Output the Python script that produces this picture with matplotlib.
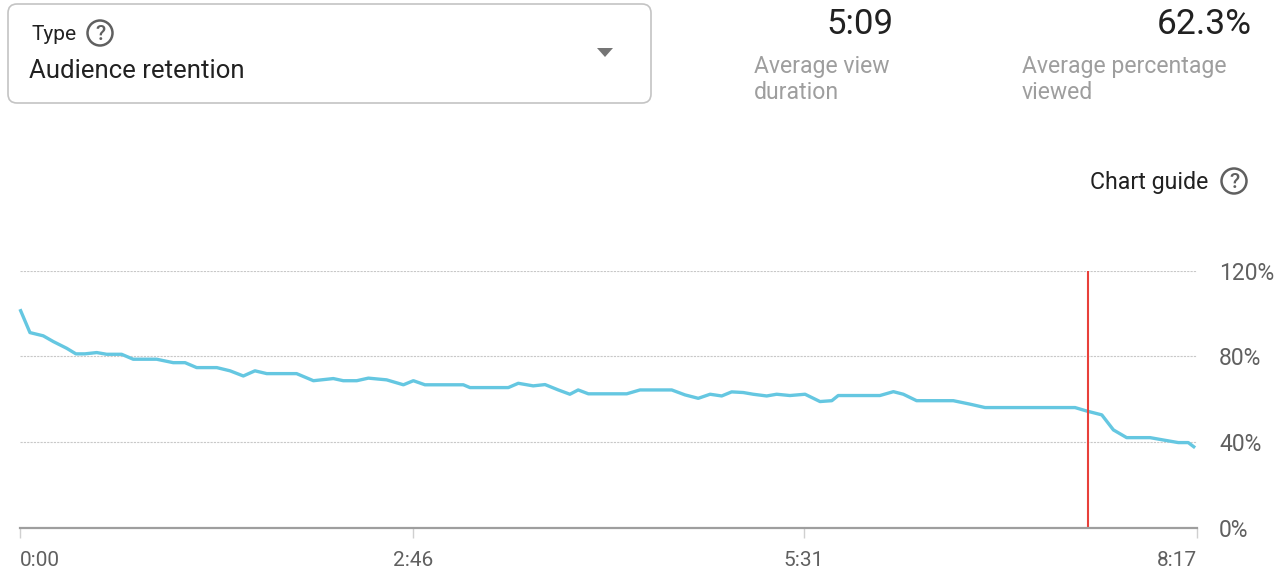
import matplotlib
matplotlib.use("Agg")
import matplotlib.pyplot as plt
from matplotlib.patches import FancyBboxPatch, Circle, Polygon

plt.rcParams['font.family'] = ['Roboto', 'DejaVu Sans']

# ---- data ----
time_s = [0, 4.2, 9.8, 14.1, 19.7, 23.6, 27.4, 32.4, 36.6, 42.9, 47.8, 57.7, 64.7, 69.7,
          74.6, 83.1, 88.7, 94.3, 99.2, 104.2, 116.8, 123.9, 132.3, 136.5, 142.2, 147.1,
          154.8, 161.9, 166.1, 171.0, 187.2, 190.0, 206.2, 210.4, 216.7, 221.7, 227.3,
          232.2, 235.7, 240.0, 256.2, 261.8, 275.2, 280.8, 286.4, 291.4, 296.3, 300.5,
          305.4, 309.6, 315.3, 319.5, 325.1, 331.5, 337.8, 342.8, 345.5, 363.1, 368.8,
          373.0, 378.6, 394.1, 401.1, 407.5, 445.5, 450.4, 456.8, 461.7, 467.3, 477.2,
          482.8, 489.1, 493.3, 496.2]
retention_pct = [102.0, 91.1, 89.6, 86.9, 83.8, 81.2, 81.2, 81.8, 81.0, 81.0, 78.7, 78.7,
                 77.1, 77.1, 74.8, 74.8, 73.3, 70.9, 73.3, 72.0, 72.0, 68.7, 69.7, 68.7,
                 68.7, 69.9, 69.1, 66.8, 68.7, 66.8, 66.8, 65.5, 65.5, 67.5, 66.3, 66.9,
                 64.4, 62.4, 64.4, 62.6, 62.6, 64.4, 64.4, 62.1, 60.5, 62.4, 61.6, 63.5,
                 63.2, 62.4, 61.6, 62.4, 61.8, 62.4, 59.0, 59.4, 61.8, 61.8, 63.6, 62.4,
                 59.4, 59.4, 57.8, 56.2, 56.2, 54.6, 52.8, 45.8, 42.2, 42.2, 41.1, 39.9,
                 39.9, 37.5]
x_ticks = [0, 166, 331, 497]
x_tick_labels = ["0:00", "2:46", "5:31", "8:17"]
y_ticks = [0, 40, 80, 120]
y_tick_labels = ["0%", "40%", "80%", "120%"]
marker_time = 451
duration_s = 497

type_label = "Type"
type_value = "Audience retention"
avg_view_duration = "5:09"
avg_pct_viewed = "62.3%"

W, H = 1282, 569
fig = plt.figure(figsize=(W / 100, H / 100), dpi=100)

# ---- main chart ----
left, right, top, bottom = 20, 1197, 270.5, 528.3
ax = fig.add_axes([left / W, 1 - bottom / H, (right - left) / W, (bottom - top) / H])
ax.plot(time_s, retention_pct, color='#65c7e1', lw=2.4, solid_joinstyle='round',
        solid_capstyle='butt', zorder=3, clip_on=False)
ax.axvline(marker_time, color='#e8403a', lw=1.5, zorder=4)
ax.set_xlim(0, duration_s)
ax.set_ylim(0, 120)
for s in ['top', 'left', 'right']:
    ax.spines[s].set_visible(False)
ax.spines['bottom'].set_color('#9e9e9e')
ax.spines['bottom'].set_linewidth(1.6)
ax.spines['bottom'].set_zorder(5)
ax.set_yticks(y_ticks)
ax.set_yticklabels(y_tick_labels)
ax.yaxis.tick_right()
ax.tick_params(axis='y', length=0, pad=16, labelsize=16.5, labelcolor='#606060')
ax.set_xticks(x_ticks)
ax.set_xticklabels(x_tick_labels)
ax.tick_params(axis='x', length=7, width=1, color='#d0d0d0', pad=9, labelsize=15,
               labelcolor='#606060')
xl = ax.get_xticklabels()
xl[0].set_ha('left')
xl[-1].set_ha('right')
ax.grid(axis='y', color='#c8c8c8', lw=0.8, linestyle=(0, (2, 1)))
ax.set_axisbelow(True)

# ---- overlay (pixel coordinates) ----
ov = fig.add_axes([0, 0, 1, 1], zorder=-1)
ov.set_xlim(0, W)
ov.set_ylim(H, 0)
ov.axis('off')

box = FancyBboxPatch((8, 4), 643, 99, boxstyle="round,pad=0,rounding_size=9",
                     fc='white', ec='#c4c4c4', lw=1.2)
ov.add_patch(box)
ov.text(31, 34, type_label, fontsize=15, color='#212121', va='center', ha='left')
ov.add_patch(Circle((100, 33), 12.5, fill=False, ec='#606060', lw=1.8))
ov.text(100, 34, "?", fontsize=15, color='#606060', ha='center', va='center',
        fontweight='medium')
ov.text(29, 71, type_value, fontsize=18.5, color='#212121', va='center', ha='left')
ov.add_patch(Polygon([(597, 48), (613, 48), (605, 57)], closed=True, fc='#757575', ec='none'))

ov.text(893, 24, avg_view_duration, fontsize=25, color='#212121', ha='right', va='center')
ov.text(754, 66, "Average view", fontsize=16.6, color='#9e9e9e', ha='left', va='center')
ov.text(754, 92, "duration", fontsize=16.6, color='#9e9e9e', ha='left', va='center')
ov.text(1252, 24, avg_pct_viewed, fontsize=25.5, color='#212121', ha='right', va='center')
ov.text(1022, 66, "Average percentage", fontsize=16.6, color='#9e9e9e', ha='left', va='center')
ov.text(1022, 92, "viewed", fontsize=16.6, color='#9e9e9e', ha='left', va='center')

ov.text(1208, 182, "Chart guide", fontsize=16.7, color='#212121', ha='right', va='center')
ov.add_patch(Circle((1234, 181), 12.5, fill=False, ec='#606060', lw=1.8))
ov.text(1234, 182, "?", fontsize=15, color='#606060', ha='center', va='center',
        fontweight='medium')

fig.savefig("out.png", dpi=100, facecolor='white')
